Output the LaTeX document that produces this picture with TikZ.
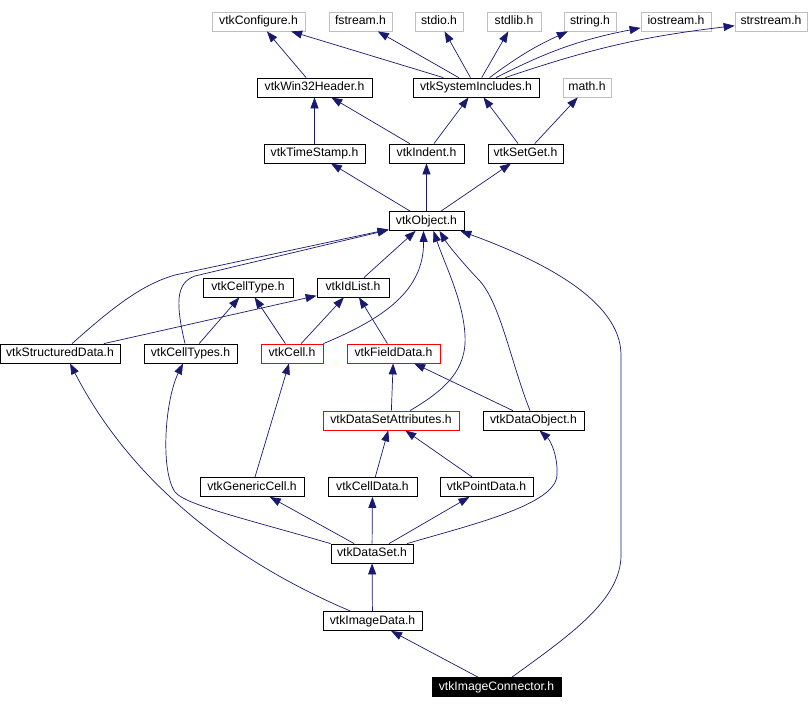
\documentclass[tikz,border=0pt]{standalone}
\usepackage{fontspec}
\setmainfont{Liberation Sans}
\usetikzlibrary{arrows.meta}
\definecolor{edgeC}{HTML}{191970}
\definecolor{sysC}{HTML}{BFBFBF}
\definecolor{docC}{HTML}{FF0000}
\tikzset{
  hdr/.style={draw, rectangle, font=\fontsize{12.2}{14}\selectfont, inner sep=0pt,
              text height=9pt, text depth=3pt, minimum height=19pt, line width=0.8pt},
  syshdr/.style={hdr, draw=sysC},
  redhdr/.style={hdr, draw=docC},
  mainhdr/.style={hdr, fill=black, text=white},
  dep/.style={-{Triangle[length=11pt,width=8pt]}, color=edgeC, line width=0.7pt},
}

\begin{document}
\begin{tikzpicture}[x=1pt, y=-1pt]
\useasboundingbox (0,0) rectangle (809,709);
% system headers
\node[syshdr, minimum width=93] (cfg)    at (258.5,21.5) {vtkConfigure.h};
\node[syshdr, minimum width=63] (fstr)   at (360.5,21.5) {fstream.h};
\node[syshdr, minimum width=48] (stdio)  at (439,21.5)   {stdio.h};
\node[syshdr, minimum width=54] (stdlib) at (514,21.5)   {stdlib.h};
\node[syshdr, minimum width=52] (string) at (590,21.5)   {string.h};
\node[syshdr, minimum width=70] (iostr)  at (676,21.5)   {iostream.h};
\node[syshdr, minimum width=72] (sstr)   at (771,21.5)   {strstream.h};
\node[syshdr, minimum width=48] (math)   at (587,87.5)   {math.h};
% vtk headers
\node[hdr, minimum width=115] (win32)  at (314.5,87.5)  {vtkWin32Header.h};
\node[hdr, minimum width=126] (sysinc) at (476,87.5)    {vtkSystemIncludes.h};
\node[hdr, minimum width=101] (tstamp) at (314.5,153.5) {vtkTimeStamp.h};
\node[hdr, minimum width=75]  (indent) at (426.5,153.5) {vtkIndent.h};
\node[hdr, minimum width=75]  (setget) at (525.5,153.5) {vtkSetGet.h};
\node[hdr, minimum width=75]  (object) at (426.5,221)   {vtkObject.h};
\node[hdr, minimum width=90]  (celltype) at (248,287.5) {vtkCellType.h};
\node[hdr, minimum width=72]  (idlist) at (353,287.5)   {vtkIdList.h};
\node[hdr, minimum width=120] (sdata)  at (60,353.5)    {vtkStructuredData.h};
\node[hdr, minimum width=93]  (ctypes) at (190.5,353.5) {vtkCellTypes.h};
\node[redhdr, minimum width=62]  (cell)   at (292,353.5)   {vtkCell.h};
\node[redhdr, minimum width=93]  (fdata)  at (393.5,353.5) {vtkFieldData.h};
\node[redhdr, minimum width=136] (dsattr) at (391,420.5)   {vtkDataSetAttributes.h};
\node[hdr, minimum width=101] (dobj)   at (533.5,420.5) {vtkDataObject.h};
\node[hdr, minimum width=104] (gcell)  at (252,487)     {vtkGenericCell.h};
\node[hdr, minimum width=89]  (cdata)  at (372.5,487)   {vtkCellData.h};
\node[hdr, minimum width=93]  (pdata)  at (486.5,487)   {vtkPointData.h};
\node[hdr, minimum width=82]  (dset)   at (372,553.5)   {vtkDataSet.h};
\node[hdr, minimum width=99]  (idata)  at (372.5,621)   {vtkImageData.h};
\node[mainhdr, minimum width=129] (iconn) at (496.5,687) {vtkImageConnector.h};

% includes
\draw[dep] (win32) -- (cfg);
\draw[dep] (sysinc) -- (cfg);
\draw[dep] (sysinc) -- (fstr);
\draw[dep] (sysinc) -- (stdio);
\draw[dep] (sysinc) -- (stdlib);
\draw[dep] (sysinc) to[bend left=6] (string);
\draw[dep] (sysinc) to[bend left=8] (iostr);
\draw[dep] (sysinc) to[bend left=6] (sstr);
\draw[dep] (tstamp) -- (win32);
\draw[dep] (indent) -- (win32);
\draw[dep] (indent) -- (sysinc);
\draw[dep] (setget) -- (sysinc);
\draw[dep] (setget) -- (math);
\draw[dep] (object) -- (tstamp);
\draw[dep] (object) -- (indent);
\draw[dep] (object) -- (setget);
\draw[dep] (idlist) -- (object);
\draw[dep] ([xshift=12]sdata.north) .. controls (110,310) and (140,285) .. (175,275)
  -- ([yshift=1.5]object.south west);
\draw[dep] (sdata) -- (idlist);
\draw[dep] ([xshift=-5.5]ctypes.north) .. controls (176,305) and (175,283) .. (195,276)
  -- ([yshift=1]object.south west);
\draw[dep] (ctypes) -- (celltype);
\draw[dep] (cell) -- (celltype);
\draw[dep] (cell) -- (idlist);
\draw[dep] (cell.north east) .. controls (385,318) and (424,290) .. ([xshift=-3]object.south);
\draw[dep] (fdata) -- (idlist);
\draw[dep] (dsattr) -- (fdata);
\draw[dep] ([xshift=19]dsattr.north) .. controls (445,390) and (467,370) .. (465,335)
  .. controls (463,300) and (445,265) .. ([xshift=7]object.south);
\draw[dep] (dobj) -- (fdata);
\draw[dep] ([xshift=-3.5]dobj.north) .. controls (510,360) and (500,300) .. (477,278)
  .. controls (462,262) and (448,245) .. ([xshift=13]object.south);
\draw[dep] (gcell) -- (cell);
\draw[dep] (cdata) -- (dsattr);
\draw[dep] (pdata) -- (dsattr);
\draw[dep] (dset.north west) .. controls (250,520) and (185,505) .. (175,492)
  .. controls (160,470) and (165,400) .. ([xshift=-7.5]ctypes.south);
\draw[dep] (dset) -- (gcell);
\draw[dep] (dset) -- (cdata);
\draw[dep] (dset) -- (pdata);
\draw[dep] ([xshift=35]dset.north) .. controls (470,525) and (556,505) .. (557,475)
  .. controls (558,455) and (550,440) .. ([xshift=6]dobj.south);
\draw[dep] (idata) -- (dset);
\draw[dep] ([xshift=-22]idata.north) .. controls (230,560) and (130,480) .. ([xshift=10]sdata.south);
\draw[dep] (iconn) -- (idata);
\draw[dep] ([xshift=15.5]iconn.north) .. controls (570,635) and (621,600) .. (621,555)
  -- (621,355) .. controls (621,300) and (540,260) .. ([xshift=-4]object.south east);
\end{tikzpicture}
\end{document}
